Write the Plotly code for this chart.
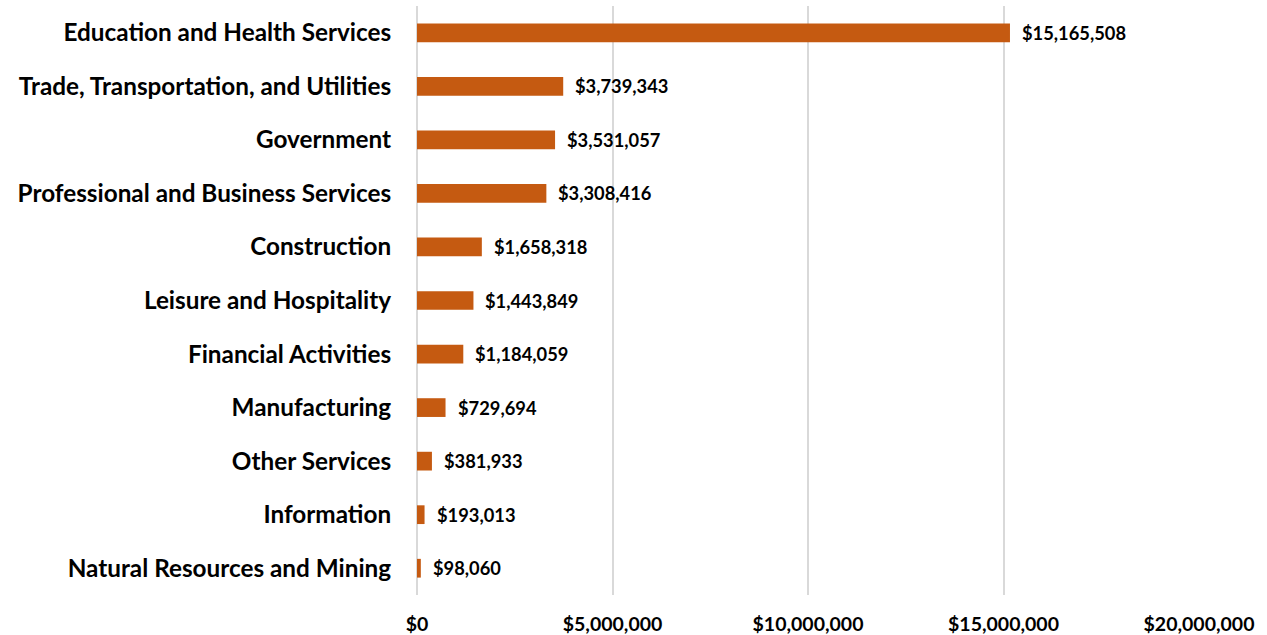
import plotly.graph_objects as go

categories = [
    "Education and Health Services",
    "Trade, Transportation, and Utilities",
    "Government",
    "Professional and Business Services",
    "Construction",
    "Leisure and Hospitality",
    "Financial Activities",
    "Manufacturing",
    "Other Services",
    "Information",
    "Natural Resources and Mining",
]
values = [15165508, 3739343, 3531057, 3308416, 1658318, 1443849,
          1184059, 729694, 381933, 193013, 98060]
tick_vals = [0, 5000000, 10000000, 15000000, 20000000]
tick_text = ["$0", "$5,000,000", "$10,000,000", "$15,000,000", "$20,000,000"]

FONT = "Lato"
BAR = "#C55A11"

fig = go.Figure(go.Bar(
    x=values, y=categories, orientation="h",
    marker=dict(color=BAR, line=dict(width=0)),
    hoverinfo="skip",
))

annotations = [
    dict(x=v, y=c, xref="x", yref="y", text="${:,}".format(v),
         showarrow=False, xanchor="left", yanchor="middle", xshift=10,
         font=dict(family=FONT, size=18.3, color="#000000", weight="bold"))
    for c, v in zip(categories, values)
]

fig.update_layout(
    width=1267, height=635,
    margin=dict(l=417, r=68, t=6, b=40, autoexpand=False),
    paper_bgcolor="white", plot_bgcolor="white",
    bargap=0.65,
    showlegend=False,
    annotations=annotations,
    font=dict(family=FONT, color="#000000"),
)
fig.update_xaxes(
    range=[0, 20000000], tickvals=tick_vals, ticktext=tick_text,
    showgrid=True, gridcolor="#D9D9D9", gridwidth=1.5,
    zeroline=True, zerolinecolor="#D9D9D9", zerolinewidth=1.5,
    showline=False, ticks="outside", ticklen=12, tickcolor="rgba(0,0,0,0)",
    tickfont=dict(family=FONT, size=19.5, color="#000000", weight="bold"),
    automargin=False, fixedrange=True,
)
fig.update_yaxes(
    categoryorder="array", categoryarray=categories[::-1],
    showgrid=False, showline=False, zeroline=False,
    ticks="outside", ticklen=20, tickcolor="rgba(0,0,0,0)",
    tickfont=dict(family=FONT, size=24.3, color="#000000", weight="bold"),
    automargin=False, fixedrange=True,
)

fig.write_html(
    "out.html",
    config={"displayModeBar": False},
    post_script="document.body.style.margin='0';document.body.style.overflow='hidden';",
)
